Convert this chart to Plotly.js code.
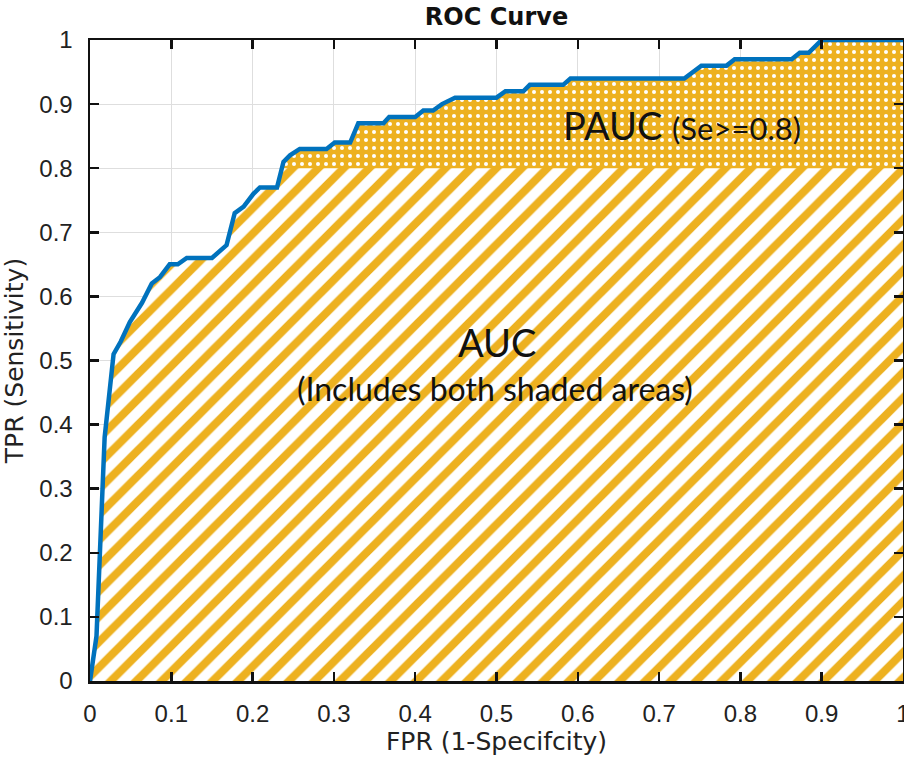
<!DOCTYPE html>
<html>
<head>
<meta charset="utf-8">
<script src="https://cdn.plot.ly/plotly-3.0.1.min.js"></script>
<style>html,body{margin:0;padding:0;background:#fff;}#chart{width:904px;height:761px;}</style>
</head>
<body>
<div id="chart"></div>
<script>
// ROC curve points
const fpr = [0, 0.008, 0.018, 0.029, 0.038, 0.049, 0.064, 0.076, 0.086, 0.098, 0.108, 0.119, 0.150, 0.168, 0.178, 0.189, 0.201, 0.209, 0.230, 0.238, 0.246, 0.258, 0.291, 0.301, 0.320, 0.330, 0.361, 0.368, 0.400, 0.410, 0.422, 0.433, 0.449, 0.500, 0.511, 0.533, 0.541, 0.582, 0.591, 0.731, 0.752, 0.783, 0.793, 0.863, 0.873, 0.884, 0.900, 1.0];
const tpr = [0, 0.07, 0.38, 0.51, 0.53, 0.56, 0.59, 0.62, 0.63, 0.65, 0.65, 0.66, 0.66, 0.68, 0.73, 0.74, 0.76, 0.77, 0.77, 0.81, 0.82, 0.83, 0.83, 0.84, 0.84, 0.87, 0.87, 0.88, 0.88, 0.89, 0.89, 0.90, 0.91, 0.91, 0.92, 0.92, 0.93, 0.93, 0.94, 0.94, 0.96, 0.96, 0.97, 0.97, 0.98, 0.98, 1.0, 1.0];
const seCutoff = 0.8;
const tickVals = [0, 0.1, 0.2, 0.3, 0.4, 0.5, 0.6, 0.7, 0.8, 0.9, 1];
const tickText = ['0', '0.1', '0.2', '0.3', '0.4', '0.5', '0.6', '0.7', '0.8', '0.9', '1'];
const chartTitle = 'ROC Curve';
const xTitle = 'FPR (1-Specifcity)';
const yTitle = 'TPR (Sensitivity)';

// curve clipped at the sensitivity cutoff (for the AUC hatch below it)
const clipX = [], clipY = [];
for (let i = 0; i < fpr.length; i++) {
  if (i > 0) {
    const y0 = tpr[i - 1], y1 = tpr[i];
    if ((y0 - seCutoff) * (y1 - seCutoff) < 0) {
      const t = (seCutoff - y0) / (y1 - y0);
      clipX.push(fpr[i - 1] + t * (fpr[i] - fpr[i - 1]));
      clipY.push(seCutoff);
    }
  }
  clipX.push(fpr[i]);
  clipY.push(Math.min(tpr[i], seCutoff));
}

const orange = '#EDB120';
const blue = '#0072BD';

const traces = [
  { // PAUC dotted area (whole area, later covered below the cutoff)
    x: fpr, y: tpr, type: 'scatter', mode: 'lines',
    line: {width: 0, color: orange},
    fill: 'tozeroy', fillcolor: orange,
    fillpattern: {shape: '.', fgcolor: '#ffffff', bgcolor: orange, size: 8, solidity: 0.2},
    hoverinfo: 'skip', showlegend: false
  },
  { // AUC hatch below the cutoff
    x: clipX, y: clipY, type: 'scatter', mode: 'lines',
    line: {width: 0, color: orange},
    fill: 'tozeroy', fillcolor: orange,
    fillpattern: {shape: '/', fgcolor: orange, bgcolor: '#ffffff', size: 18, solidity: 0.45},
    hoverinfo: 'skip', showlegend: false
  },
  { // ROC curve
    x: fpr, y: tpr, type: 'scatter', mode: 'lines',
    line: {width: 4.5, color: blue},
    cliponaxis: false, showlegend: false
  }
];

const axisCommon = {
  range: [0, 1], tickvals: tickVals, ticktext: tickText,
  showgrid: true, gridcolor: '#dedede', gridwidth: 1,
  zeroline: false, showline: true, linecolor: '#111', linewidth: 2.5,
  mirror: 'ticks', ticks: 'inside', ticklen: 9, tickwidth: 2.5, tickcolor: '#111',
  tickfont: {family: 'Arial, "Liberation Sans", sans-serif', size: 24, color: '#222'},
  ticklabeloverflow: 'allow',
  fixedrange: true
};

const layout = {
  width: 904, height: 761,
  paper_bgcolor: '#ffffff', plot_bgcolor: '#ffffff',
  margin: {l: 90, r: 1, t: 40, b: 80},
  title: {text: '<b>' + chartTitle + '</b>', x: 0.5, xref: 'paper', xanchor: 'center',
          y: 1 - 17 / 761, yref: 'container', yanchor: 'middle',
          font: {family: '"DejaVu Sans", sans-serif', size: 24, color: '#111'}},
  xaxis: Object.assign({}, axisCommon, {
    title: {text: xTitle, standoff: 6, font: {family: '"DejaVu Sans", sans-serif', size: 25, color: '#222'}},
    ticklabelstandoff: 10
  }),
  yaxis: Object.assign({}, axisCommon, {
    title: {text: yTitle, standoff: 10, font: {family: '"DejaVu Sans", sans-serif', size: 25, color: '#222'}},
    ticklabelstandoff: 10
  }),
  annotations: [
    {x: 0.728, y: 0.867, xref: 'x', yref: 'y', showarrow: false,
     text: 'PAUC <span style="font-size:31px">(Se&gt;=0.8)</span>',
     font: {family: 'Lato, "Open Sans", sans-serif', size: 38, color: '#111'}},
    {x: 0.5, y: 0.529, xref: 'x', yref: 'y', showarrow: false,
     text: 'AUC', font: {family: 'Lato, "Open Sans", sans-serif', size: 38, color: '#111'}},
    {x: 0.498, y: 0.456, xref: 'x', yref: 'y', showarrow: false,
     text: '(Includes both shaded areas)', font: {family: 'Lato, "Open Sans", sans-serif', size: 32, color: '#111'}}
  ]
};

Plotly.newPlot('chart', traces, layout, {displayModeBar: false, staticPlot: true});
</script>
</body>
</html>
